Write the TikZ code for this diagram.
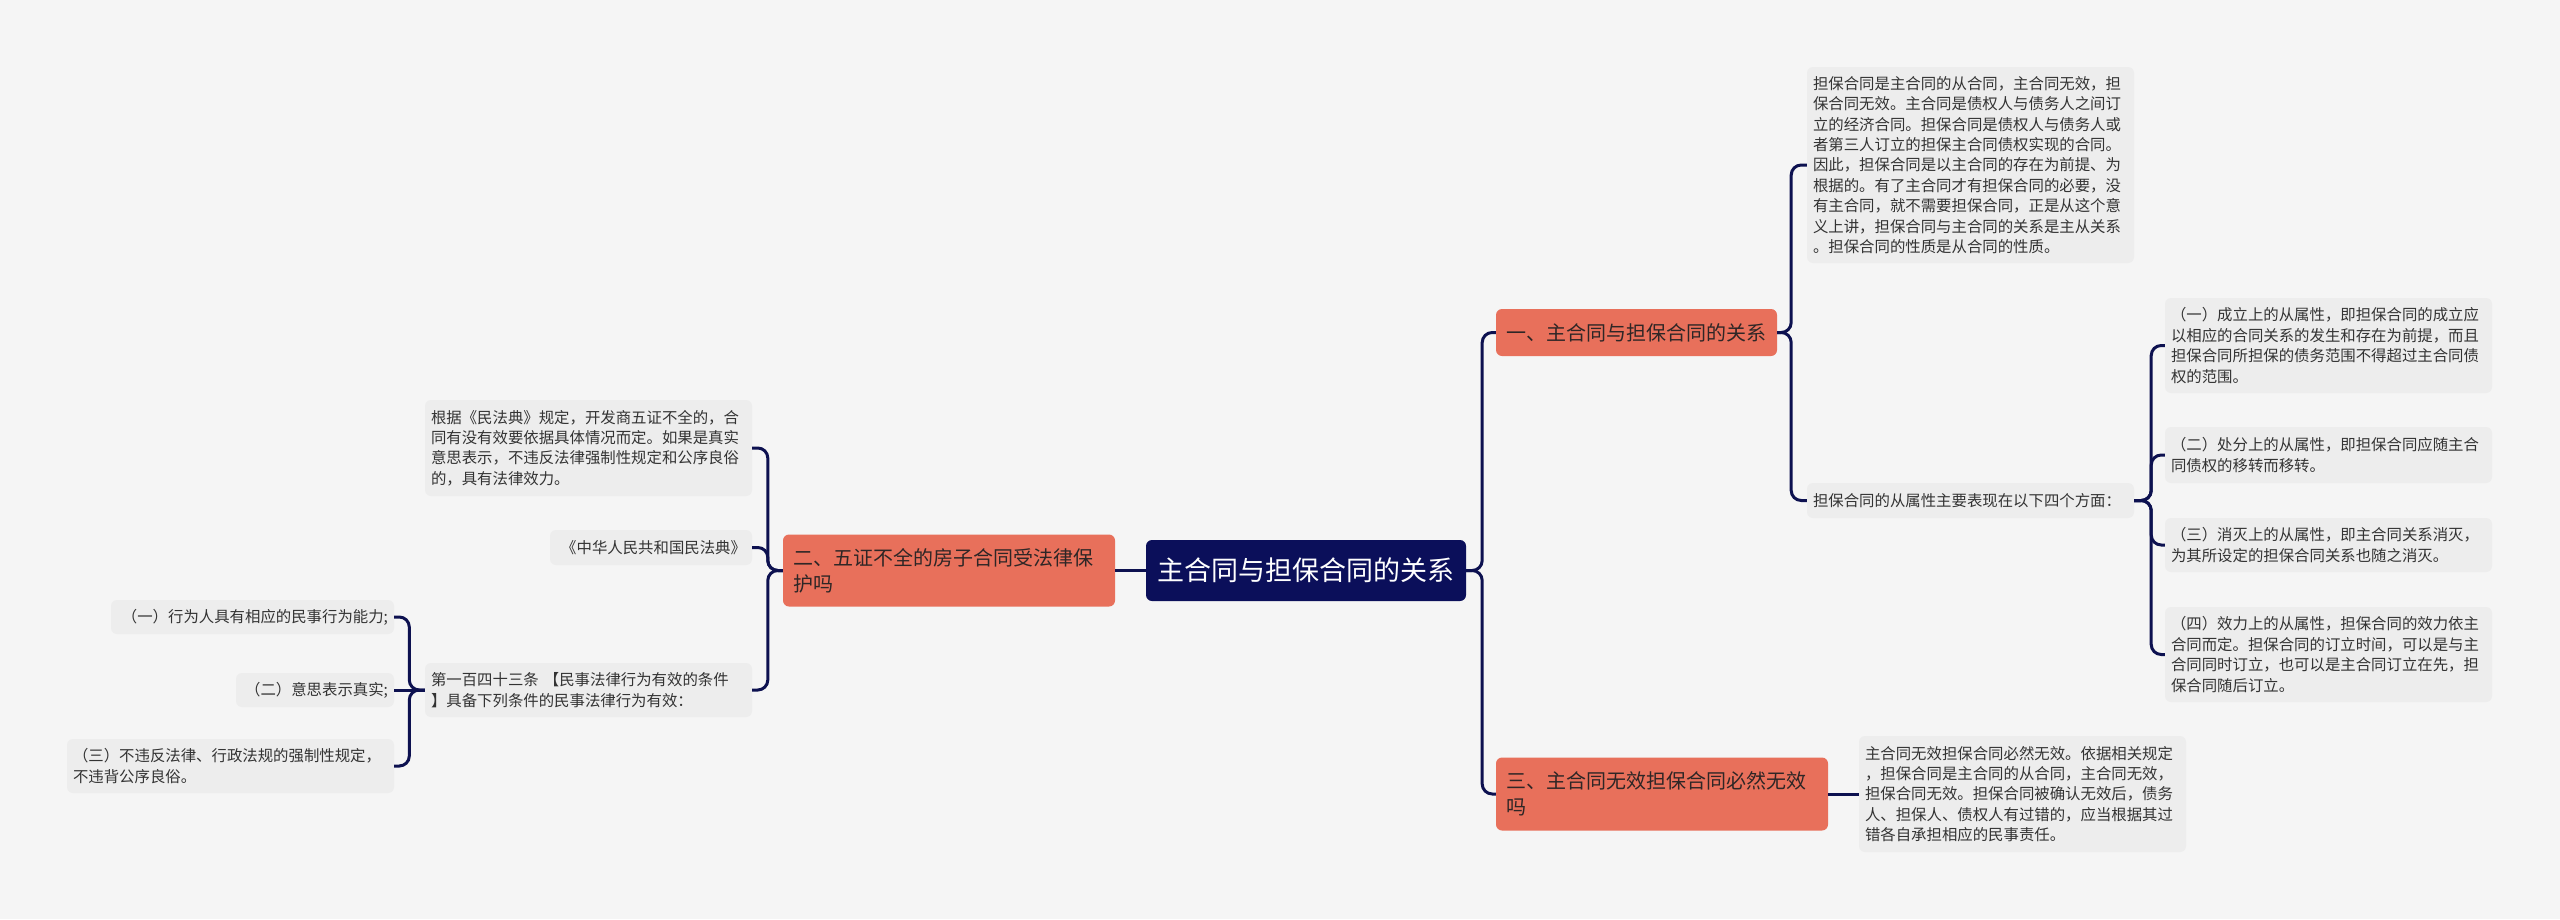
\documentclass[tikz,border=0pt]{standalone}
\usepackage{fontspec}
\setmainfont{Noto Sans CJK SC}
\definecolor{bgc}{HTML}{F5F5F5}
\definecolor{leafc}{HTML}{EDEDED}
\definecolor{salmon}{HTML}{E8705B}
\definecolor{navy}{HTML}{0B0F5A}
\definecolor{linec}{HTML}{0D1150}
\definecolor{txt}{HTML}{333333}
\definecolor{btxt}{HTML}{2E2626}
\newcommand\lfont{\fontsize{15.4}{20.4}\selectfont}
\newcommand\brfont{\fontsize{20}{26}\selectfont}
\newcommand\cenfont{\fontsize{27}{32}\selectfont}
\begin{document}
\begin{tikzpicture}[x=1pt,y=-1pt,
  conn/.style={draw=linec, line width=3pt, rounded corners=10pt},
  leaf/.style={fill=leafc, rounded corners=6pt, inner xsep=6pt, inner ysep=0pt, font=\lfont, text=txt, align=left},
  branch/.style={fill=salmon, rounded corners=6pt, inner xsep=10pt, inner ysep=0pt, font=\brfont, text=btxt, align=left},
  central/.style={fill=navy, rounded corners=6pt, inner sep=0pt, font=\cenfont, text=white}
]
\fill[bgc] (0,0) rectangle (2560,919);
\useasboundingbox (0,0) rectangle (2560,919);

% central and branches
\node[central, minimum width=320pt, minimum height=61pt] (c) at (1306,570.5) {主合同与担保合同的关系};
\node[branch, text width=261pt, minimum height=47pt] (b1) at (1636.5,332.5) {一、主合同与担保合同的关系};
\node[branch, text width=312pt, minimum height=72pt] (b2) at (949,570.5) {二、五证不全的房子合同受法律保\\护吗};
\node[branch, text width=312pt, minimum height=73pt] (b3) at (1662,794) {三、主合同无效担保合同必然无效\\吗};

% right leaves
\node[leaf, text width=315pt, minimum height=196pt] (A) at (1970.5,165) {担保合同是主合同的从合同，主合同无效，担\\保合同无效。主合同是债权人与债务人之间订\\立的经济合同。担保合同是债权人与债务人或\\者第三人订立的担保主合同债权实现的合同。\\因此，担保合同是以主合同的存在为前提、为\\根据的。有了主合同才有担保合同的必要，没\\有主合同，就不需要担保合同，正是从这个意\\义上讲，担保合同与主合同的关系是主从关系\\。担保合同的性质是从合同的性质。};
\node[leaf, text width=315pt, minimum height=35pt] (B) at (1970.5,500.5) {担保合同的从属性主要表现在以下四个方面：};
\node[leaf, text width=315pt, minimum height=95pt] (s1) at (2328.5,345.5) {（一）成立上的从属性，即担保合同的成立应\\以相应的合同关系的发生和存在为前提，而且\\担保合同所担保的债务范围不得超过主合同债\\权的范围。};
\node[leaf, text width=315pt, minimum height=56pt] (s2) at (2328.5,455) {（二）处分上的从属性，即担保合同应随主合\\同债权的移转而移转。};
\node[leaf, text width=315pt, minimum height=54pt] (s3) at (2328.5,545) {（三）消灭上的从属性，即主合同关系消灭，\\为其所设定的担保合同关系也随之消灭。};
\node[leaf, text width=315pt, minimum height=95pt] (s4) at (2328.5,654.5) {（四）效力上的从属性，担保合同的效力依主\\合同而定。担保合同的订立时间，可以是与主\\合同同时订立，也可以是主合同订立在先，担\\保合同随后订立。};
\node[leaf, text width=315pt, minimum height=116pt] (F) at (2022.5,794) {主合同无效担保合同必然无效。依据相关规定\\，担保合同是主合同的从合同，主合同无效，\\担保合同无效。担保合同被确认无效后，债务\\人、担保人、债权人有过错的，应当根据其过\\错各自承担相应的民事责任。};

% left leaves
\node[leaf, text width=315pt, minimum height=96pt] (C) at (588.5,448) {根据《民法典》规定，开发商五证不全的，合\\同有没有效要依据具体情况而定。如果是真实\\意思表示，不违反法律强制性规定和公序良俗\\的，具有法律效力。};
\node[leaf, text width=190pt, minimum height=35pt, align=right] (D) at (651,547.5) {《中华人民共和国民法典》};
\node[leaf, text width=315pt, minimum height=54pt] (E) at (588.5,690) {第一百四十三条 【民事法律行为有效的条件\\】具备下列条件的民事法律行为有效：};
\node[leaf, text width=271pt, minimum height=34pt, align=right] (l1) at (252.5,617) {（一）行为人具有相应的民事行为能力;};
\node[leaf, text width=146pt, minimum height=34pt, align=right] (l2) at (315,690) {（二）意思表示真实;};
\node[leaf, text width=315pt, minimum height=54pt] (l3) at (230.5,766) {（三）不违反法律、行政法规的强制性规定，\\不违背公序良俗。};

% connectors
\draw[conn] (c.east) -- ++(16,0) |- (b1.west);
\draw[conn] (c.east) -- ++(16,0) |- (b3.west);
\draw[conn] (c.west) -- (b2.east);
\draw[conn] (b1.east) -- ++(14,0) |- (A.west);
\draw[conn] (b1.east) -- ++(14,0) |- (B.west);
\draw[conn] (B.east) -- ++(17,0) |- (s1.west);
\draw[conn] (B.east) -- ++(17,0) |- (s2.west);
\draw[conn] (B.east) -- ++(17,0) |- (s3.west);
\draw[conn] (B.east) -- ++(17,0) |- (s4.west);
\draw[conn] (b3.east) -- (F.west);
\draw[conn] (b2.west) -- ++(-15,0) |- (C.east);
\draw[conn] (b2.west) -- ++(-15,0) |- (D.east);
\draw[conn] (b2.west) -- ++(-15,0) |- (E.east);
\draw[conn] (E.west) -- ++(-15.5,0) |- (l1.east);
\draw[conn] (E.west) -- (l2.east);
\draw[conn] (E.west) -- ++(-15.5,0) |- (l3.east);
\end{tikzpicture}
\end{document}
